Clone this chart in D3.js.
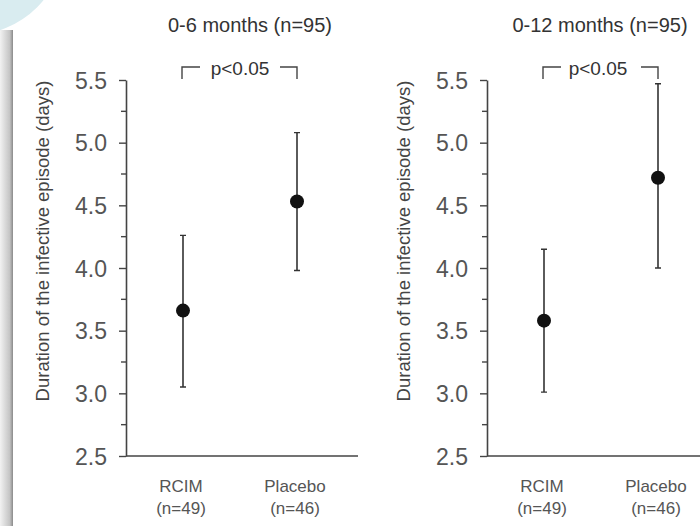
<!DOCTYPE html>
<html>
<head>
<meta charset="utf-8">
<script src="https://cdn.jsdelivr.net/npm/d3@7"></script>
<style>
  body { margin: 0; background: #fff; }
  svg { display: block; font-family: 'Liberation Sans', Arial, sans-serif; }
</style>
</head>
<body>
<div id="chart"></div>
<script>
// data
const groups = ['RCIM', 'Placebo'];
const groupN = ['(n=49)', '(n=46)'];
const panelTitles = ['0-6 months (n=95)', '0-12 months (n=95)'];
const means6 = [3.66, 4.53];
const lower6 = [3.05, 3.98];
const upper6 = [4.26, 5.08];
const means12 = [3.58, 4.72];
const lower12 = [3.01, 4.00];
const upper12 = [4.15, 5.47];
const yTicks = [2.5, 3.0, 3.5, 4.0, 4.5, 5.0, 5.5];
const yMinorTicks = [2.75, 3.25, 3.75, 4.25, 4.75, 5.25];
const pLabel = 'p<0.05';
const yTitle = 'Duration of the infective episode (days)';

const width = 700;
const height = 526;

const svg = d3
  .select('#chart')
  .append('svg')
  .attr('width', width)
  .attr('height', height);

// slide decoration: blue corner + grey side bar
const defs = svg.append('defs');
const barGrad = defs
  .append('linearGradient')
  .attr('id', 'sidebar')
  .attr('x1', 0)
  .attr('x2', 1);
barGrad.append('stop').attr('offset', '0%').attr('stop-color', '#f2f2f2');
barGrad.append('stop').attr('offset', '75%').attr('stop-color', '#c4c4c4');
barGrad.append('stop').attr('offset', '100%').attr('stop-color', '#8a8a8a');

svg
  .append('rect')
  .attr('x', 0)
  .attr('y', 30)
  .attr('width', 13)
  .attr('height', height - 30)
  .attr('fill', 'url(#sidebar)');

svg
  .append('circle')
  .attr('cx', -30)
  .attr('cy', -60)
  .attr('r', 95)
  .attr('fill', '#d9ecf0');

const y = d3.scaleLinear().domain([2.5, 5.5]).range([456, 80]);

const panels = [
  { x0: 126, axisEnd: 358, titleX: 124, pX: 114, means: means6, lower: lower6, upper: upper6, title: panelTitles[0] },
  { x0: 487, axisEnd: 720, titleX: 113, pX: 111, means: means12, lower: lower12, upper: upper12, title: panelTitles[1] },
];

panels.forEach(p => {
  const g = svg.append('g').attr('transform', `translate(${p.x0},0)`);

  const x = d3.scalePoint().domain(groups).range([57, 171]);

  // y axis, major ticks
  const yAxis = g
    .append('g')
    .call(d3.axisLeft(y).tickValues(yTicks).tickSize(7).tickSizeOuter(0).tickFormat(d3.format('.1f')));
  yAxis.select('.domain').attr('stroke', '#444').attr('stroke-width', 1.6);
  yAxis.selectAll('.tick line').attr('stroke', '#444').attr('stroke-width', 1.4);
  yAxis
    .selectAll('.tick text')
    .attr('x', -19)
    .attr('dy', '0.36em')
    .attr('fill', '#555')
    .attr('font-size', 23)
    .attr('font-family', "'Liberation Sans', Arial, sans-serif");

  // minor ticks
  g.append('g')
    .selectAll('line')
    .data(yMinorTicks)
    .join('line')
    .attr('x1', -5)
    .attr('x2', 0)
    .attr('y1', d => y(d))
    .attr('y2', d => y(d))
    .attr('stroke', '#444')
    .attr('stroke-width', 1.4);

  // x axis line
  g.append('line')
    .attr('x1', 0)
    .attr('x2', p.axisEnd - p.x0)
    .attr('y1', y(2.5))
    .attr('y2', y(2.5))
    .attr('stroke', '#444')
    .attr('stroke-width', 1.6);

  // y title
  g.append('text')
    .attr('transform', `translate(${-77},241) rotate(-90)`)
    .attr('text-anchor', 'middle')
    .attr('font-size', 18.5)
    .attr('fill', '#444')
    .text(yTitle);

  // panel title
  g.append('text')
    .attr('x', p.titleX)
    .attr('y', 32)
    .attr('text-anchor', 'middle')
    .attr('font-size', 20)
    .attr('fill', '#333')
    .text(p.title);

  // significance bracket
  const bx1 = x('RCIM') - 1;
  const bx2 = x('Placebo');
  const by = 67;
  g.append('path')
    .attr('d', `M${bx1},${by + 12}V${by}H${bx1 + 18}M${bx2 - 17},${by}H${bx2}V${by + 12}`)
    .attr('fill', 'none')
    .attr('stroke', '#444')
    .attr('stroke-width', 1.4);
  g.append('text')
    .attr('x', p.pX)
    .attr('y', 75)
    .attr('text-anchor', 'middle')
    .attr('font-size', 19)
    .attr('fill', '#333')
    .text(pLabel);

  // error bars
  const rows = groups.map((gname, i) => ({
    name: gname,
    n: groupN[i],
    mean: p.means[i],
    lo: p.lower[i],
    hi: p.upper[i],
  }));

  const bars = g.append('g').selectAll('g').data(rows).join('g');
  bars
    .append('line')
    .attr('x1', d => x(d.name))
    .attr('x2', d => x(d.name))
    .attr('y1', d => y(d.lo))
    .attr('y2', d => y(d.hi))
    .attr('stroke', '#333')
    .attr('stroke-width', 1.6);
  bars
    .append('path')
    .attr(
      'd',
      d =>
        `M${x(d.name) - 3},${y(d.lo)}H${x(d.name) + 3}M${x(d.name) - 3},${y(d.hi)}H${x(d.name) + 3}`
    )
    .attr('stroke', '#333')
    .attr('stroke-width', 1.4);
  bars
    .append('circle')
    .attr('cx', d => x(d.name))
    .attr('cy', d => y(d.mean))
    .attr('r', 7)
    .attr('fill', '#111');

  // category labels
  bars
    .append('text')
    .attr('x', d => x(d.name) - 2)
    .attr('y', 492)
    .attr('text-anchor', 'middle')
    .attr('font-size', 17)
    .attr('fill', '#555')
    .text(d => d.name);
  bars
    .append('text')
    .attr('x', d => x(d.name) - 2)
    .attr('y', 514)
    .attr('text-anchor', 'middle')
    .attr('font-size', 17)
    .attr('fill', '#555')
    .text(d => d.n);
});
</script>
</body>
</html>
